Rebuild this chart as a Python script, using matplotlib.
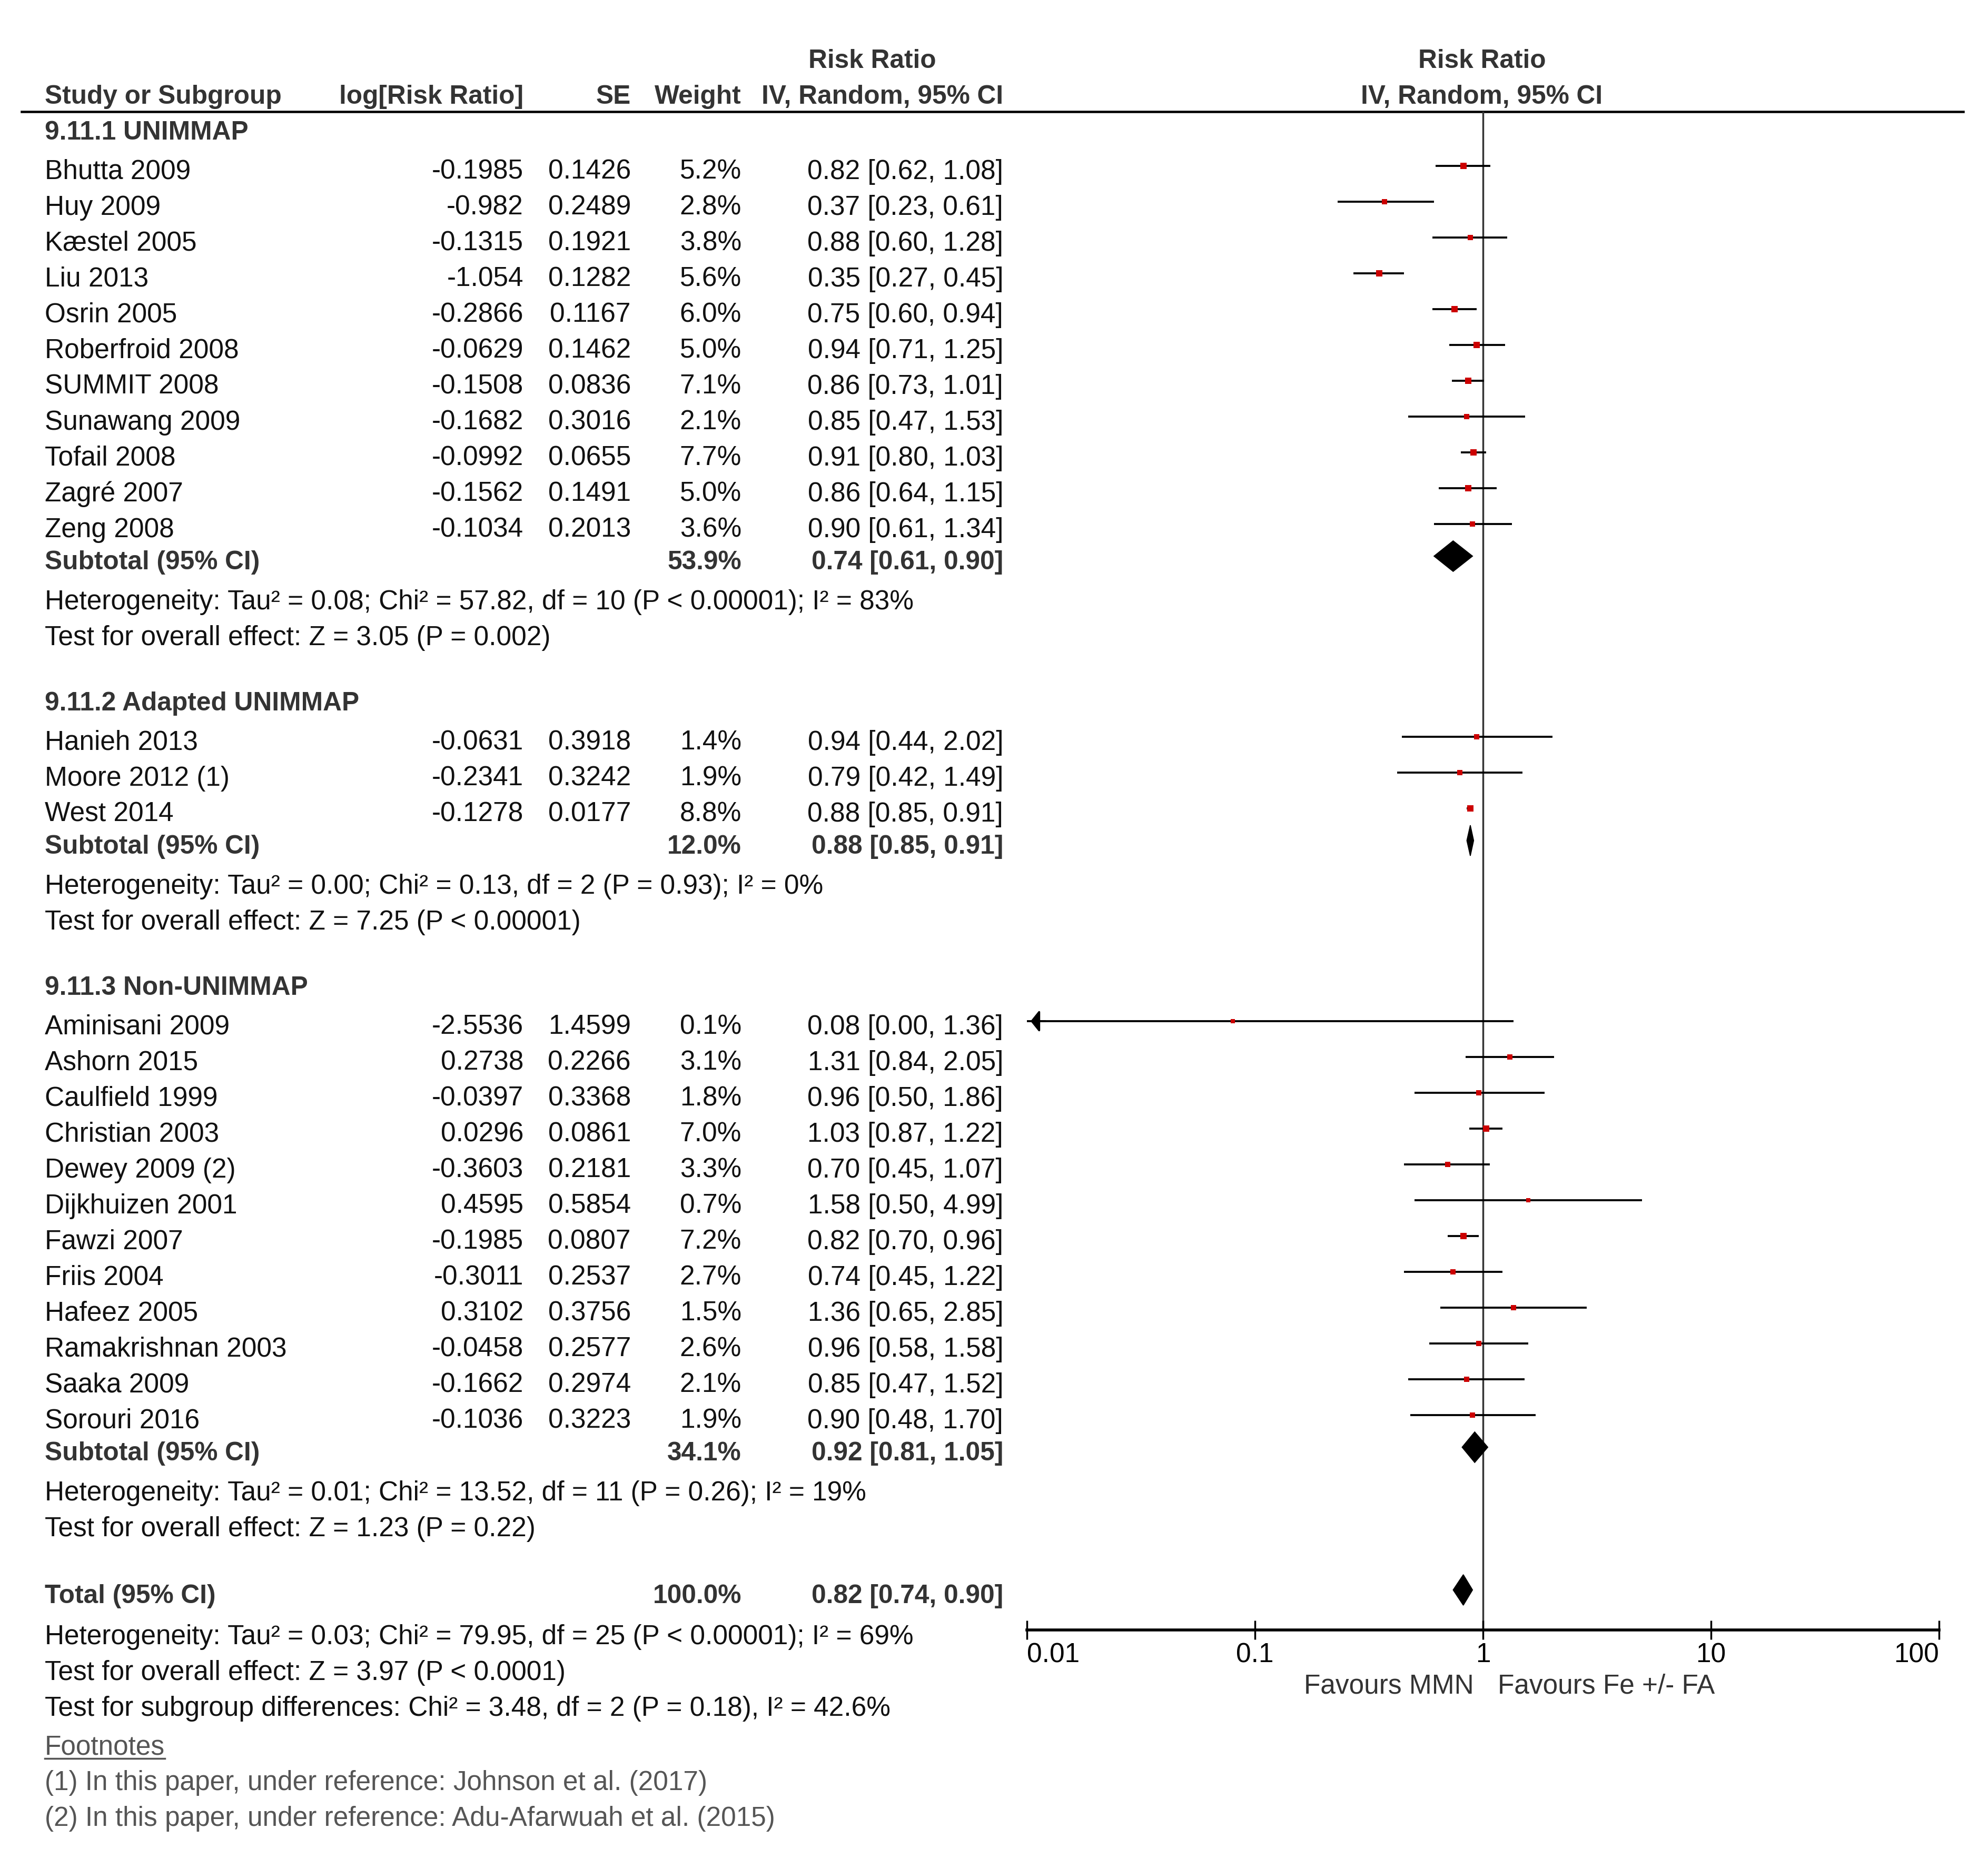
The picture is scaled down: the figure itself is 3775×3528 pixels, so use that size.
import matplotlib
matplotlib.use('Agg')
import matplotlib.pyplot as plt
import numpy as np

plt.rcParams['font.family'] = ['Liberation Sans', 'DejaVu Sans']

# ---------------- data ----------------
g1_names = ['Bhutta 2009', 'Huy 2009', 'Kæstel 2005', 'Liu 2013', 'Osrin 2005', 'Roberfroid 2008',
            'SUMMIT 2008', 'Sunawang 2009', 'Tofail 2008', 'Zagré 2007', 'Zeng 2008']
g1_logrr = [-0.1985, -0.982, -0.1315, -1.054, -0.2866, -0.0629, -0.1508, -0.1682, -0.0992, -0.1562, -0.1034]
g1_se = [0.1426, 0.2489, 0.1921, 0.1282, 0.1167, 0.1462, 0.0836, 0.3016, 0.0655, 0.1491, 0.2013]
g1_w = [5.2, 2.8, 3.8, 5.6, 6.0, 5.0, 7.1, 2.1, 7.7, 5.0, 3.6]
g1_rr = [0.82, 0.37, 0.88, 0.35, 0.75, 0.94, 0.86, 0.85, 0.91, 0.86, 0.90]
g1_lo = [0.62, 0.23, 0.60, 0.27, 0.60, 0.71, 0.73, 0.47, 0.80, 0.64, 0.61]
g1_hi = [1.08, 0.61, 1.28, 0.45, 0.94, 1.25, 1.01, 1.53, 1.03, 1.15, 1.34]

g2_names = ['Hanieh 2013', 'Moore 2012 (1)', 'West 2014']
g2_logrr = [-0.0631, -0.2341, -0.1278]
g2_se = [0.3918, 0.3242, 0.0177]
g2_w = [1.4, 1.9, 8.8]
g2_rr = [0.94, 0.79, 0.88]
g2_lo = [0.44, 0.42, 0.85]
g2_hi = [2.02, 1.49, 0.91]

g3_names = ['Aminisani 2009', 'Ashorn 2015', 'Caulfield 1999', 'Christian 2003', 'Dewey 2009 (2)',
            'Dijkhuizen 2001', 'Fawzi 2007', 'Friis 2004', 'Hafeez 2005', 'Ramakrishnan 2003',
            'Saaka 2009', 'Sorouri 2016']
g3_logrr = [-2.5536, 0.2738, -0.0397, 0.0296, -0.3603, 0.4595, -0.1985, -0.3011, 0.3102, -0.0458, -0.1662, -0.1036]
g3_se = [1.4599, 0.2266, 0.3368, 0.0861, 0.2181, 0.5854, 0.0807, 0.2537, 0.3756, 0.2577, 0.2974, 0.3223]
g3_w = [0.1, 3.1, 1.8, 7.0, 3.3, 0.7, 7.2, 2.7, 1.5, 2.6, 2.1, 1.9]
g3_rr = [0.08, 1.31, 0.96, 1.03, 0.70, 1.58, 0.82, 0.74, 1.36, 0.96, 0.85, 0.90]
g3_lo = [0.00, 0.84, 0.50, 0.87, 0.45, 0.50, 0.70, 0.45, 0.65, 0.58, 0.47, 0.48]
g3_hi = [1.36, 2.05, 1.86, 1.22, 1.07, 4.99, 0.96, 1.22, 2.85, 1.58, 1.52, 1.70]

group_titles = ['9.11.1 UNIMMAP', '9.11.2 Adapted UNIMMAP', '9.11.3 Non-UNIMMAP']
sub_w = [53.9, 12.0, 34.1]
sub_rr = [0.74, 0.88, 0.92]
sub_lo = [0.61, 0.85, 0.81]
sub_hi = [0.90, 0.91, 1.05]
sub_het = ['Heterogeneity: Tau² = 0.08; Chi² = 57.82, df = 10 (P < 0.00001); I² = 83%',
           'Heterogeneity: Tau² = 0.00; Chi² = 0.13, df = 2 (P = 0.93); I² = 0%',
           'Heterogeneity: Tau² = 0.01; Chi² = 13.52, df = 11 (P = 0.26); I² = 19%']
sub_test = ['Test for overall effect: Z = 3.05 (P = 0.002)',
            'Test for overall effect: Z = 7.25 (P < 0.00001)',
            'Test for overall effect: Z = 1.23 (P = 0.22)']

total_w = 100.0
total_rr, total_lo, total_hi = 0.82, 0.74, 0.90
total_lines = ['Heterogeneity: Tau² = 0.03; Chi² = 79.95, df = 25 (P < 0.00001); I² = 69%',
               'Test for overall effect: Z = 3.97 (P < 0.0001)',
               'Test for subgroup differences: Chi² = 3.48, df = 2 (P = 0.18), I² = 42.6%']
footnotes = ['(1) In this paper, under reference: Johnson et al. (2017)',
             '(2) In this paper, under reference: Adu-Afarwuah et al. (2015)']

axis_ticks = [0.01, 0.1, 1, 10, 100]
axis_ticklabels = ['0.01', '0.1', '1', '10', '100']
favours_left = 'Favours MMN'
favours_right = 'Favours Fe +/- FA'

groups = [
    (g1_names, g1_logrr, g1_se, g1_w, g1_rr, g1_lo, g1_hi),
    (g2_names, g2_logrr, g2_se, g2_w, g2_rr, g2_lo, g2_hi),
    (g3_names, g3_logrr, g3_se, g3_w, g3_rr, g3_lo, g3_hi),
]

# ---------------- layout ----------------
W, H, DPI = 3775, 3528, 250
fig = plt.figure(figsize=(W / DPI, H / DPI), dpi=DPI)
fig.patch.set_facecolor('white')

ax_t = fig.add_axes([0, 0, 1, 1])
ax_t.set_xlim(0, W)
ax_t.set_ylim(H, 0)
ax_t.axis('off')

X0_PX, X1_PX = 1950, 3682      # 0.01 and 100 positions
TOP_PX, AXIS_PX = 212, 3095
ax_f = fig.add_axes([X0_PX / W, 1 - AXIS_PX / H, (X1_PX - X0_PX) / W, (AXIS_PX - TOP_PX) / H])
ax_f.set_xscale('log')
ax_f.set_xlim(axis_ticks[0], axis_ticks[-1])
ax_f.set_ylim(AXIS_PX, TOP_PX)
ax_f.patch.set_alpha(0)
for sp in ['top', 'left', 'right']:
    ax_f.spines[sp].set_visible(False)
ax_f.spines['bottom'].set_linewidth(1.6)
ax_f.set_yticks([])
ax_f.set_xticks(axis_ticks)
ax_f.set_xticklabels(axis_ticklabels)
ax_f.xaxis.set_minor_locator(matplotlib.ticker.NullLocator())
FS = 14.8
FSB = 14.3
ax_f.tick_params(axis='x', direction='inout', length=10.5, width=1.0, pad=1.5, labelsize=FS, colors='black')
tl = ax_f.get_xticklabels()
tl[0].set_ha('left')
tl[-1].set_ha('right')

BODY = '#111111'
HEAD = '#333333'
FOOT = '#555555'

X_NAME = 85
X_LOG = 994
X_SE = 1198
X_WT = 1408
X_CI = 1905
X_RRHEAD = 1656
X_ONE = 2814

STEP = 68
MARK_OFF = -7
DIA_H = 29


def put(x, yc, s, ha='left', bold=False, color=BODY):
    return ax_t.text(x, yc + 18, s, ha=ha, va='baseline', fontsize=FSB if bold else FS,
                     fontweight='bold' if bold else 'normal', color=color)


def ci_txt(r, l, h):
    return f'{r:.2f} [{l:.2f}, {h:.2f}]'


def draw_study(y, rr, lo, hi, w):
    ym = y + MARK_OFF
    xl = max(lo, axis_ticks[0])
    ax_f.plot([xl, hi], [ym, ym], color='black', lw=1.1, solid_capstyle='butt', zorder=2)
    if lo < axis_ticks[0]:
        ax_f.annotate('', xy=(axis_ticks[0], ym), xytext=(axis_ticks[0] * 1.25, ym),
                      arrowprops=dict(arrowstyle='-|>,head_length=0.4,head_width=0.5',
                                      color='black', lw=1.1, mutation_scale=10),
                      annotation_clip=False)
    side_px = 7.5 + 1.7 * np.sqrt(w)
    ax_f.scatter([rr], [ym], marker='s', s=(side_px * 72 / DPI) ** 2, color='#cc0000',
                 linewidths=0, zorder=3)


def draw_diamond(y, rr, lo, hi):
    ym = y + MARK_OFF
    ax_f.fill([lo, rr, hi, rr], [ym, ym - DIA_H, ym, ym + DIA_H], color='black', lw=0.5, zorder=3)


# headers
put(X_RRHEAD, 111, 'Risk Ratio', ha='center', bold=True, color=HEAD)
put(X_NAME, 179, 'Study or Subgroup', bold=True, color=HEAD)
put(X_LOG, 179, 'log[Risk Ratio]', ha='right', bold=True, color=HEAD)
put(X_SE, 179, 'SE', ha='right', bold=True, color=HEAD)
put(X_WT, 179, 'Weight', ha='right', bold=True, color=HEAD)
put(X_CI, 179, 'IV, Random, 95% CI', ha='right', bold=True, color=HEAD)
put(X_ONE, 111, 'Risk Ratio', ha='center', bold=True, color=HEAD)
put(X_ONE, 179, 'IV, Random, 95% CI', ha='center', bold=True, color=HEAD)
ax_t.plot([41, 3728], [TOP_PX, TOP_PX], color='black', lw=1.3)

ax_f.axvline(1, color='#333333', lw=1.0, zorder=1)

y = 247
for gi, (names, logrr, se, w, rr, lo, hi) in enumerate(groups):
    put(X_NAME, y, group_titles[gi], bold=True, color=HEAD)
    y += 75
    for k in range(len(names)):
        if k > 0:
            y += STEP
        put(X_NAME, y, names[k])
        put(X_LOG, y, str(logrr[k]), ha='right')
        put(X_SE, y, str(se[k]), ha='right')
        put(X_WT, y, f'{w[k]:.1f}%', ha='right')
        put(X_CI, y, ci_txt(rr[k], lo[k], hi[k]), ha='right')
        draw_study(y, rr[k], lo[k], hi[k], w[k])
    y += 61
    put(X_NAME, y, 'Subtotal (95% CI)', bold=True, color=HEAD)
    put(X_WT, y, f'{sub_w[gi]:.1f}%', ha='right', bold=True, color=HEAD)
    put(X_CI, y, ci_txt(sub_rr[gi], sub_lo[gi], sub_hi[gi]), ha='right', bold=True, color=HEAD)
    draw_diamond(y, sub_rr[gi], sub_lo[gi], sub_hi[gi])
    y += 76
    put(X_NAME, y, sub_het[gi])
    y += STEP
    put(X_NAME, y, sub_test[gi])
    if gi < len(groups) - 1:
        y += 124

y += 127
put(X_NAME, y, 'Total (95% CI)', bold=True, color=HEAD)
put(X_WT, y, f'{total_w:.1f}%', ha='right', bold=True, color=HEAD)
put(X_CI, y, ci_txt(total_rr, total_lo, total_hi), ha='right', bold=True, color=HEAD)
draw_diamond(y, total_rr, total_lo, total_hi)
y += 78
for i, s in enumerate(total_lines):
    if i > 0:
        y += STEP
    put(X_NAME, y, s)
y += STEP + 5
fn = put(X_NAME, y, 'Footnotes', color=FOOT)
fn_y = y
for s in footnotes:
    y += STEP
    put(X_NAME, y, s, color=FOOT)

# favours labels
ax_f.annotate(favours_left, xy=(1, 3202), xytext=(-5, 0), textcoords='offset points',
              ha='right', va='center', fontsize=FS, color='#333333', annotation_clip=False)
ax_f.annotate(favours_right, xy=(1, 3202), xytext=(8, 0), textcoords='offset points',
              ha='left', va='center', fontsize=FS, color='#333333', annotation_clip=False)

# underline Footnotes
fig.canvas.draw()
bb = fn.get_window_extent()
inv = ax_t.transData.inverted()
(xa, _), (xb, _) = inv.transform([[bb.x0, bb.y0], [bb.x1, bb.y0]])
ax_t.plot([xa, xb], [fn_y + 26, fn_y + 26], color=FOOT, lw=1.0)

fig.savefig('out.png', dpi=DPI, facecolor='white')
